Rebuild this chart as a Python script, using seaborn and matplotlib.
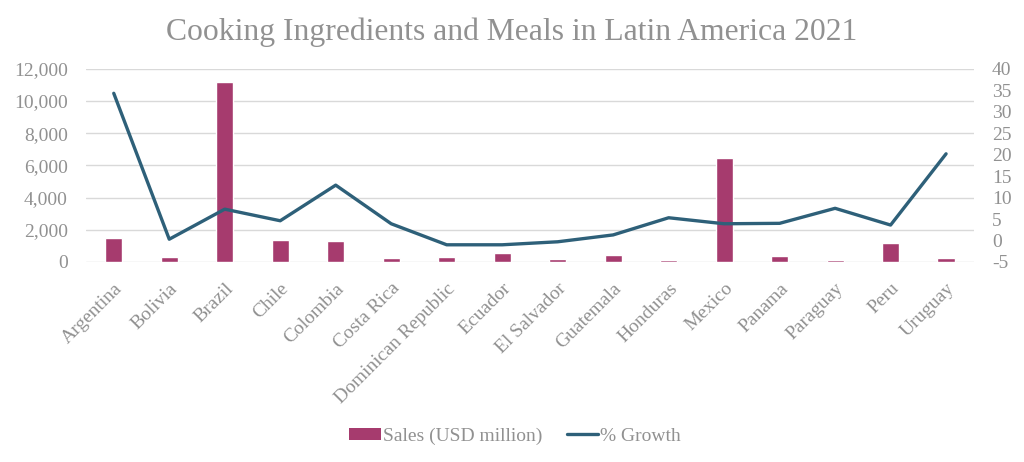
import matplotlib
matplotlib.use("Agg")
import matplotlib.pyplot as plt
import seaborn as sns
import pandas as pd
from matplotlib.patches import Patch
from matplotlib.lines import Line2D
from matplotlib.ticker import FuncFormatter, MultipleLocator

countries = ["Argentina", "Bolivia", "Brazil", "Chile", "Colombia", "Costa Rica",
             "Dominican Republic", "Ecuador", "El Salvador", "Guatemala", "Honduras",
             "Mexico", "Panama", "Paraguay", "Peru", "Uruguay"]
sales = [1500, 310, 11200, 1370, 1300, 270, 310, 580, 170, 430, 100, 6430, 370, 100, 1180, 230]
growth = [34.3, 0.3, 7.3, 4.6, 12.9, 3.9, -1.0, -1.0, -0.3, 1.3, 5.3, 3.9, 4.0, 7.5, 3.6, 20.2]

title = "Cooking Ingredients and Meals in Latin America 2021"
bar_label = "Sales (USD million)"
line_label = "% Growth"

BAR = "#A63B6E"
LINE = "#2E6079"
TXT = "#919191"
GRID = "#D9D9D9"
FS = 14

sns.set_theme(style="white")
plt.rcParams["font.family"] = ["Liberation Serif", "DejaVu Serif"]
plt.rcParams["axes.unicode_minus"] = False

df = pd.DataFrame({"country": countries, "sales": sales, "growth": growth})

fig = plt.figure(figsize=(10.24, 4.62), dpi=100)
ax = fig.add_axes([0.084, 0.433, 0.867, 0.418])
ax2 = ax.twinx()

sns.barplot(data=df, x="country", y="sales", color=BAR, width=0.31, saturation=1, ax=ax, zorder=3)
sns.lineplot(data=df, x="country", y="growth", color=LINE, linewidth=2.4, ax=ax2, sort=False)

ax.set_xlim(-0.5, len(countries) - 0.5)
ax.set_ylim(0, 12000)
ax.yaxis.set_major_locator(MultipleLocator(2000))
ax.yaxis.set_major_formatter(FuncFormatter(lambda v, p: f"{int(v):,}"))
ax2.set_ylim(-5, 40)
ax2.yaxis.set_major_locator(MultipleLocator(5))
ax2.yaxis.set_major_formatter(FuncFormatter(lambda v, p: f"{int(round(v))}"))

ax.grid(axis="y", color=GRID, linewidth=1, zorder=0)
ax.set_axisbelow(True)
for a in (ax, ax2):
    for s in a.spines.values():
        s.set_visible(False)
    a.set_xlabel("")
    a.set_ylabel("")

ax.tick_params(axis="y", colors=TXT, labelsize=FS, length=0, pad=13)
ax2.tick_params(axis="y", colors=TXT, labelsize=FS, length=0, pad=13)
ax.tick_params(axis="x", colors=TXT, labelsize=FS, length=0, pad=13)
ax2.tick_params(axis="x", length=0)
ax.set_xticks(range(len(countries)))
ax.set_xticklabels(countries, rotation=45, ha="right", rotation_mode="anchor", color=TXT)

fig.text(0.5, 0.93, title, ha="center", va="center", fontsize=22.8, color=TXT)

handles = [Patch(facecolor=BAR, edgecolor="none"), Line2D([0], [0], color=LINE, linewidth=2.4)]
fig.legend(handles, [bar_label, line_label], loc="center", bbox_to_anchor=(0.503, 0.056),
           ncol=2, frameon=False, fontsize=FS, labelcolor=TXT, handlelength=1.6,
           handleheight=0.55, handletextpad=0.12, columnspacing=1.25)

fig.savefig("out.png", dpi=100)
